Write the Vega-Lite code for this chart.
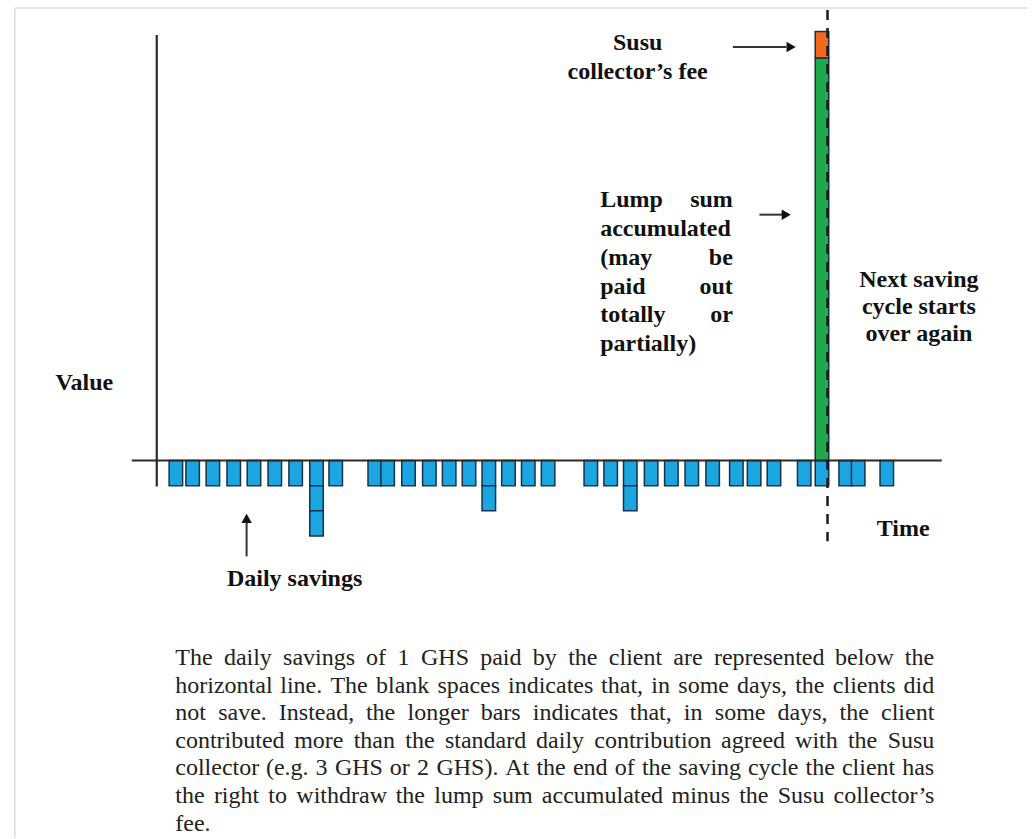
{
  "$schema": "https://vega.github.io/schema/vega-lite/v6.json",
  "width": 1032,
  "height": 839,
  "autosize": {"type": "fit", "contains": "padding"},
  "padding": 0,
  "background": "white",
  "config": {"view": {"stroke": null}},
  "datasets": {
    "savings": [
      {"x": 0.93, "amount": -1, "part": "Daily saving", "order": 1},
      {"x": 1.75, "amount": -1, "part": "Daily saving", "order": 1},
      {"x": 2.74, "amount": -1, "part": "Daily saving", "order": 1},
      {"x": 3.76, "amount": -1, "part": "Daily saving", "order": 1},
      {"x": 4.75, "amount": -1, "part": "Daily saving", "order": 1},
      {"x": 5.77, "amount": -1, "part": "Daily saving", "order": 1},
      {"x": 6.79, "amount": -1, "part": "Daily saving", "order": 1},
      {"x": 7.81, "amount": -1, "part": "Daily saving", "order": 1},
      {"x": 7.81, "amount": -1, "part": "Daily saving", "order": 2},
      {"x": 7.81, "amount": -1, "part": "Daily saving", "order": 3},
      {"x": 8.75, "amount": -1, "part": "Daily saving", "order": 1},
      {"x": 10.66, "amount": -1, "part": "Daily saving", "order": 1},
      {"x": 11.29, "amount": -1, "part": "Daily saving", "order": 1},
      {"x": 12.31, "amount": -1, "part": "Daily saving", "order": 1},
      {"x": 13.33, "amount": -1, "part": "Daily saving", "order": 1},
      {"x": 14.30, "amount": -1, "part": "Daily saving", "order": 1},
      {"x": 15.27, "amount": -1, "part": "Daily saving", "order": 1},
      {"x": 16.24, "amount": -1, "part": "Daily saving", "order": 1},
      {"x": 16.24, "amount": -1, "part": "Daily saving", "order": 2},
      {"x": 17.20, "amount": -1, "part": "Daily saving", "order": 1},
      {"x": 18.17, "amount": -1, "part": "Daily saving", "order": 1},
      {"x": 19.14, "amount": -1, "part": "Daily saving", "order": 1},
      {"x": 21.23, "amount": -1, "part": "Daily saving", "order": 1},
      {"x": 22.20, "amount": -1, "part": "Daily saving", "order": 1},
      {"x": 23.16, "amount": -1, "part": "Daily saving", "order": 1},
      {"x": 23.16, "amount": -1, "part": "Daily saving", "order": 2},
      {"x": 24.18, "amount": -1, "part": "Daily saving", "order": 1},
      {"x": 25.17, "amount": -1, "part": "Daily saving", "order": 1},
      {"x": 26.17, "amount": -1, "part": "Daily saving", "order": 1},
      {"x": 27.19, "amount": -1, "part": "Daily saving", "order": 1},
      {"x": 28.35, "amount": -1, "part": "Daily saving", "order": 1},
      {"x": 29.22, "amount": -1, "part": "Daily saving", "order": 1},
      {"x": 30.19, "amount": -1, "part": "Daily saving", "order": 1},
      {"x": 31.67, "amount": -1, "part": "Daily saving", "order": 1},
      {"x": 32.54, "amount": -1, "part": "Daily saving", "order": 1},
      {"x": 32.54, "amount": 16, "part": "Lump sum", "order": 1},
      {"x": 32.54, "amount": 1.05, "part": "Collector fee", "order": 2},
      {"x": 33.70, "amount": -1, "part": "Daily saving", "order": 1},
      {"x": 34.31, "amount": -1, "part": "Daily saving", "order": 1},
      {"x": 35.71, "amount": -1, "part": "Daily saving", "order": 1}
    ],
    "frame": [
      {"x": -6.95, "y": 17.98, "x2": 42.57, "y2": 17.98},
      {"x": -6.95, "y": 17.98, "x2": -6.95, "y2": -15}
    ],
    "axes": [
      {"x": -0.005, "y": 16.91, "x2": -0.005, "y2": -1.03},
      {"x": -1.23, "y": 0, "x2": 38.40, "y2": 0}
    ],
    "cycle": [
      {"x": 32.81, "y": 17.9, "x2": 32.81, "y2": -3.21}
    ],
    "arrows": [
      {"x": 28.18, "y": 16.43, "x2": 30.8, "y2": 16.43},
      {"x": 29.48, "y": 9.77, "x2": 30.6, "y2": 9.77},
      {"x": 4.39, "y": -3.81, "x2": 4.39, "y2": -2.42}
    ],
    "heads": [
      {"x": 31.03, "y": 16.43, "dir": "right"},
      {"x": 30.79, "y": 9.77, "dir": "right"},
      {"x": 4.39, "y": -2.3, "dir": "up"}
    ],
    "labels": [
      {"text": "Susu", "x": 23.52, "y": 16.59, "anchor": "center"},
      {"text": "collector’s fee", "x": 23.52, "y": 15.44, "anchor": "center"},
      {"text": "Lump", "x": 21.69, "y": 10.36, "anchor": "left"},
      {"text": "sum", "x": 28.18, "y": 10.36, "anchor": "right"},
      {"text": "accumulated", "x": 21.69, "y": 9.21, "anchor": "left"},
      {"text": "(may", "x": 21.69, "y": 8.06, "anchor": "left"},
      {"text": "be", "x": 28.18, "y": 8.06, "anchor": "right"},
      {"text": "paid", "x": 21.69, "y": 6.91, "anchor": "left"},
      {"text": "out", "x": 28.18, "y": 6.91, "anchor": "right"},
      {"text": "totally", "x": 21.69, "y": 5.80, "anchor": "left"},
      {"text": "or", "x": 28.18, "y": 5.80, "anchor": "right"},
      {"text": "partially)", "x": 21.69, "y": 4.65, "anchor": "left"},
      {"text": "Next saving", "x": 37.28, "y": 7.19, "anchor": "center"},
      {"text": "cycle starts", "x": 37.28, "y": 6.11, "anchor": "center"},
      {"text": "over again", "x": 37.28, "y": 5.02, "anchor": "center"},
      {"text": "Value", "x": -3.55, "y": 3.09, "anchor": "center"},
      {"text": "Time", "x": 36.51, "y": -2.73, "anchor": "center"},
      {"text": "Daily savings", "x": 6.74, "y": -4.72, "anchor": "center"}
    ],
    "caption": [
      {"text": "The", "x": 0.9012, "y": -8.1326},
      {"text": "daily", "x": 3.2786, "y": -8.1326},
      {"text": "savings", "x": 6.1739, "y": -8.1326},
      {"text": "of", "x": 10.2316, "y": -8.1326},
      {"text": "1", "x": 11.7698, "y": -8.1326},
      {"text": "GHS", "x": 12.9205, "y": -8.1326},
      {"text": "paid", "x": 15.8159, "y": -8.1326},
      {"text": "by", "x": 18.3876, "y": -8.1326},
      {"text": "the", "x": 20.1202, "y": -8.1326},
      {"text": "client", "x": 22.1105, "y": -8.1326},
      {"text": "are", "x": 25.2636, "y": -8.1326},
      {"text": "represented", "x": 27.2529, "y": -8.1326},
      {"text": "below", "x": 33.1817, "y": -8.1326},
      {"text": "the", "x": 36.5930, "y": -8.1326},
      {"text": "horizontal", "x": 0.9012, "y": -9.2280},
      {"text": "line.", "x": 6.0363, "y": -9.2280},
      {"text": "The", "x": 8.4917, "y": -9.2280},
      {"text": "blank", "x": 10.7200, "y": -9.2280},
      {"text": "spaces", "x": 13.7238, "y": -9.2280},
      {"text": "indicates", "x": 17.1788, "y": -9.2280},
      {"text": "that,", "x": 21.7330, "y": -9.2280},
      {"text": "in", "x": 24.1880, "y": -9.2280},
      {"text": "some", "x": 25.5126, "y": -9.2280},
      {"text": "days,", "x": 28.3876, "y": -9.2280},
      {"text": "the", "x": 31.2297, "y": -9.2280},
      {"text": "clients", "x": 33.0707, "y": -9.2280},
      {"text": "did", "x": 36.5271, "y": -9.2280},
      {"text": "not", "x": 0.9012, "y": -10.3235},
      {"text": "save.", "x": 2.9985, "y": -10.3235},
      {"text": "Instead,", "x": 5.9671, "y": -10.3235},
      {"text": "the", "x": 10.2272, "y": -10.3235},
      {"text": "longer", "x": 12.2597, "y": -10.3235},
      {"text": "bars", "x": 15.8421, "y": -10.3235},
      {"text": "indicates", "x": 18.3905, "y": -10.3235},
      {"text": "that,", "x": 23.1357, "y": -10.3235},
      {"text": "in", "x": 25.7820, "y": -10.3235},
      {"text": "some", "x": 27.2980, "y": -10.3235},
      {"text": "days,", "x": 30.3639, "y": -10.3235},
      {"text": "the", "x": 33.3973, "y": -10.3235},
      {"text": "client", "x": 35.4297, "y": -10.3235},
      {"text": "contributed", "x": 0.9012, "y": -11.4190},
      {"text": "more", "x": 6.7180, "y": -11.4190},
      {"text": "than", "x": 9.6279, "y": -11.4190},
      {"text": "the", "x": 12.1507, "y": -11.4190},
      {"text": "standard", "x": 14.0920, "y": -11.4190},
      {"text": "daily", "x": 18.5518, "y": -11.4190},
      {"text": "contribution", "x": 21.3978, "y": -11.4190},
      {"text": "agreed", "x": 27.6032, "y": -11.4190},
      {"text": "with", "x": 31.2224, "y": -11.4190},
      {"text": "the", "x": 33.8101, "y": -11.4190},
      {"text": "Susu", "x": 35.7514, "y": -11.4190},
      {"text": "collector", "x": 0.9012, "y": -12.5144},
      {"text": "(e.g.", "x": 5.3338, "y": -12.5144},
      {"text": "3", "x": 7.7641, "y": -12.5144},
      {"text": "GHS", "x": 8.7093, "y": -12.5144},
      {"text": "or", "x": 11.3988, "y": -12.5144},
      {"text": "2", "x": 12.7311, "y": -12.5144},
      {"text": "GHS).", "x": 13.6764, "y": -12.5144},
      {"text": "At", "x": 17.0436, "y": -12.5144},
      {"text": "the", "x": 18.5703, "y": -12.5144},
      {"text": "end", "x": 20.3551, "y": -12.5144},
      {"text": "of", "x": 22.3983, "y": -12.5144},
      {"text": "the", "x": 23.7306, "y": -12.5144},
      {"text": "saving", "x": 25.5155, "y": -12.5144},
      {"text": "cycle", "x": 28.9152, "y": -12.5144},
      {"text": "the", "x": 31.7326, "y": -12.5144},
      {"text": "client", "x": 33.5174, "y": -12.5144},
      {"text": "has", "x": 36.4651, "y": -12.5144},
      {"text": "the", "x": 0.9012, "y": -13.6099},
      {"text": "right", "x": 2.7892, "y": -13.6099},
      {"text": "to", "x": 5.4530, "y": -13.6099},
      {"text": "withdraw", "x": 6.8246, "y": -13.6099},
      {"text": "the", "x": 11.6836, "y": -13.6099},
      {"text": "lump", "x": 13.5717, "y": -13.6099},
      {"text": "sum", "x": 16.4293, "y": -13.6099},
      {"text": "accumulated", "x": 18.8348, "y": -13.6099},
      {"text": "minus", "x": 25.1788, "y": -13.6099},
      {"text": "the", "x": 28.4889, "y": -13.6099},
      {"text": "Susu", "x": 30.3769, "y": -13.6099},
      {"text": "collector’s", "x": 33.1056, "y": -13.6099},
      {"text": "fee.", "x": 0.9012, "y": -14.7053}
    ]
  },
  "encoding": {
    "x": {"field": "x", "type": "quantitative", "scale": {"domain": [-7.43, 42.57], "nice": false, "zero": false}, "axis": null},
    "y": {"field": "y", "type": "quantitative", "scale": {"domain": [-15, 18.3], "nice": false, "zero": false}, "axis": null}
  },
  "layer": [
    {
      "data": {"name": "frame"},
      "mark": {"type": "rule", "color": "#dddddd", "strokeWidth": 1.5},
      "encoding": {"x2": {"field": "x2"}, "y2": {"field": "y2"}}
    },
    {
      "data": {"name": "savings"},
      "transform": [
        {"stack": "amount", "groupby": ["x"], "sort": [{"field": "order", "order": "ascending"}], "as": ["y", "y2"]}
      ],
      "mark": {"type": "bar", "width": 13.5, "stroke": "#15324a", "strokeWidth": 1.5},
      "encoding": {
        "y2": {"field": "y2"},
        "color": {
          "field": "part",
          "type": "nominal",
          "scale": {"domain": ["Daily saving", "Lump sum", "Collector fee"], "range": ["#1ba6e2", "#1fa84c", "#f2691e"]},
          "legend": null
        }
      }
    },
    {
      "data": {"name": "axes"},
      "mark": {"type": "rule", "color": "#2a2a2a", "strokeWidth": 2.2},
      "encoding": {"x2": {"field": "x2"}, "y2": {"field": "y2"}}
    },
    {
      "data": {"name": "cycle"},
      "mark": {"type": "rule", "color": "#1a1a1a", "strokeWidth": 2.5, "strokeDash": [10, 8]},
      "encoding": {"x2": {"field": "x2"}, "y2": {"field": "y2"}}
    },
    {
      "data": {"name": "arrows"},
      "mark": {"type": "rule", "color": "#333333", "strokeWidth": 2},
      "encoding": {"x2": {"field": "x2"}, "y2": {"field": "y2"}}
    },
    {
      "data": {"name": "heads"},
      "mark": {"type": "point", "filled": true, "size": 110, "color": "#111111", "opacity": 1},
      "encoding": {
        "shape": {"field": "dir", "type": "nominal", "scale": {"domain": ["right", "up"], "range": ["triangle-right", "triangle-up"]}, "legend": null}
      }
    },
    {
      "data": {"name": "labels"},
      "transform": [{"filter": "datum.anchor === 'center'"}],
      "mark": {"type": "text", "font": "Liberation Serif", "fontWeight": "bold", "fontSize": 24, "color": "#111111", "align": "center", "baseline": "middle"},
      "encoding": {"text": {"field": "text"}}
    },
    {
      "data": {"name": "labels"},
      "transform": [{"filter": "datum.anchor === 'left'"}],
      "mark": {"type": "text", "font": "Liberation Serif", "fontWeight": "bold", "fontSize": 24, "color": "#111111", "align": "left", "baseline": "middle"},
      "encoding": {"text": {"field": "text"}}
    },
    {
      "data": {"name": "labels"},
      "transform": [{"filter": "datum.anchor === 'right'"}],
      "mark": {"type": "text", "font": "Liberation Serif", "fontWeight": "bold", "fontSize": 24, "color": "#111111", "align": "right", "baseline": "middle"},
      "encoding": {"text": {"field": "text"}}
    },
    {
      "data": {"name": "caption"},
      "mark": {"type": "text", "font": "Liberation Serif", "fontSize": 24, "color": "#222222", "align": "left", "baseline": "alphabetic"},
      "encoding": {"text": {"field": "text"}}
    }
  ]
}
